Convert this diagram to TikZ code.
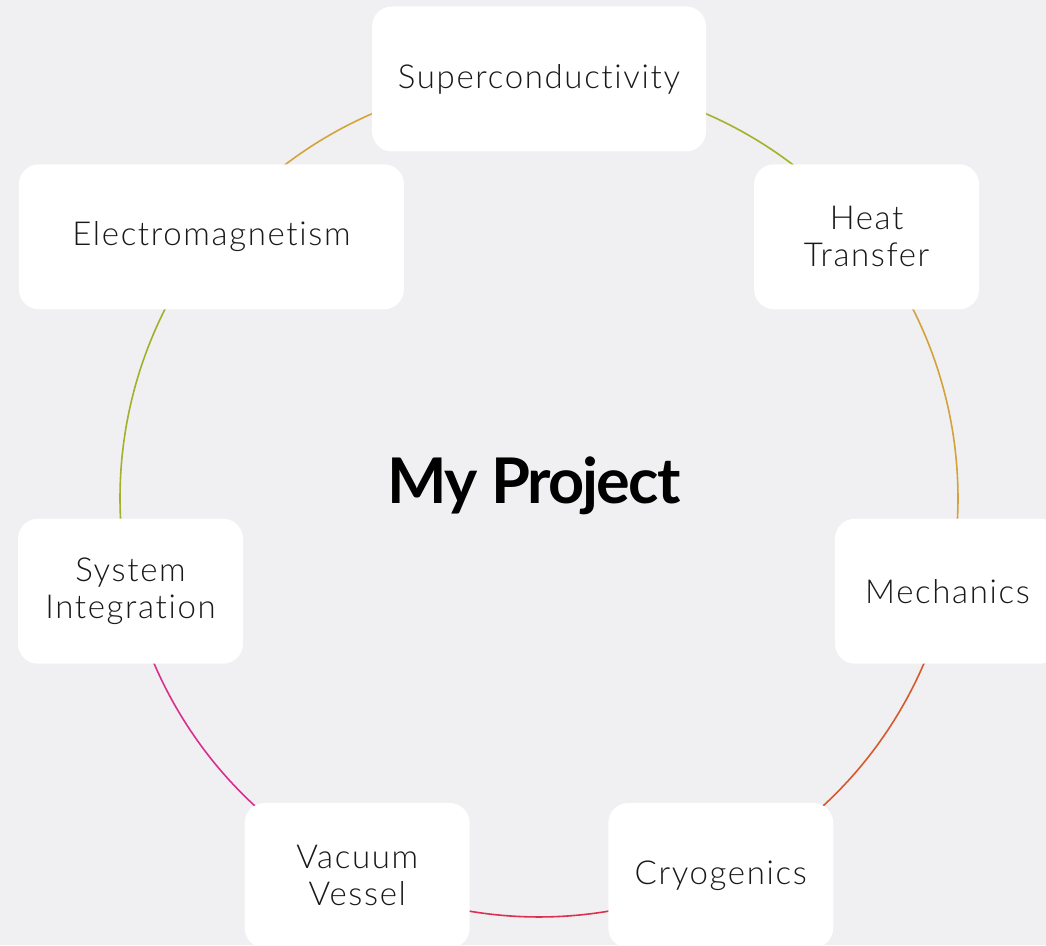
\documentclass[tikz,border=0pt]{standalone}
\usepackage{fontspec}
\setmainfont{Lato}[UprightFont=* Light, BoldFont=* Bold]
\newfontfamily\labelfont{Lato}[UprightFont=* Light, LetterSpace=5, Ligatures=NoCommon]
\newfontfamily\titlefont{Lato}[UprightFont=* Bold, LetterSpace=-3]
\begin{document}
\begin{tikzpicture}[x=1pt,y=1pt,
  topic/.style={fill=white, rounded corners=20pt, minimum height=145pt,
    minimum width=225pt, align=center, text=black!90,
    font=\labelfont\fontsize{33}{37}\selectfont, inner sep=0pt},
  ring/.style={line width=1.6pt}]
\definecolor{bg}{HTML}{F0EFF1}
\definecolor{cA}{HTML}{A3B22A}
\definecolor{cB}{HTML}{D4A23A}
\definecolor{cC}{HTML}{D55A2E}
\definecolor{cD}{HTML}{DC3050}
\definecolor{cE}{HTML}{D8308F}
\definecolor{cF}{HTML}{A2B02C}
\definecolor{cG}{HTML}{D4A43C}
\useasboundingbox (-539,-447) rectangle (507,498);
\clip (-539,-447) rectangle (507,498);
\fill[bg] (-539,-447) rectangle (507,498);
\def\R{419}
% ring segments between neighbouring topics, clockwise from the top
\draw[ring,cA] (90:\R) arc[start angle=90, end angle=38.571, radius=\R];
\draw[ring,cB] (38.571:\R) arc[start angle=38.571, end angle=-12.857, radius=\R];
\draw[ring,cC] (-12.857:\R) arc[start angle=-12.857, end angle=-64.286, radius=\R];
\draw[ring,cD] (-64.286:\R) arc[start angle=-64.286, end angle=-115.714, radius=\R];
\draw[ring,cE] (-115.714:\R) arc[start angle=-115.714, end angle=-167.143, radius=\R];
\draw[ring,cF] (-167.143:\R) arc[start angle=-167.143, end angle=-218.571, radius=\R];
\draw[ring,cG] (141.429:\R) arc[start angle=141.429, end angle=90, radius=\R];
% topic boxes
\node[topic, minimum width=334pt] (sup) at (90:\R) {Superconductivity};
\node[topic] (heat) at (38.571:\R) {Heat\\Transfer};
\node[topic] (mech) at (-12.857:\R) {Mechanics};
\node[topic] (cryo) at (-64.286:\R) {Cryogenics};
\node[topic] (vac) at (-115.714:\R) {Vacuum\\Vessel};
\node[topic] (sys) at (-167.143:\R) {System\\Integration};
\node[topic, minimum width=385pt] (em) at (141.429:\R) {Electromagnetism};
% title
\node[anchor=base, font=\titlefont\fontsize{63}{70}\selectfont, inner sep=0pt] (title) at (-5,-5) {My Project};
\end{tikzpicture}
\end{document}
